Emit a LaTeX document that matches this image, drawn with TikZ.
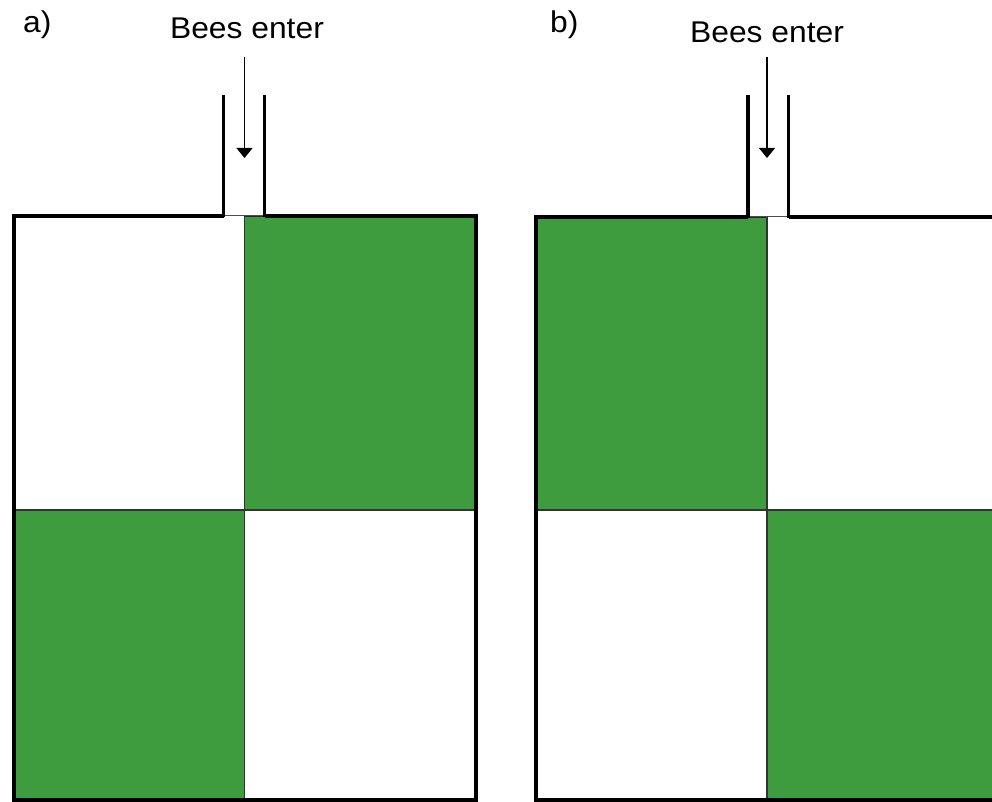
\documentclass[tikz,border=0pt]{standalone}
\usepackage{fontspec}
\setmainfont{Liberation Sans}[FakeStretch=1.06]
\usetikzlibrary{arrows.meta}
\definecolor{cellgreen}{RGB}{62,156,62}
\begin{document}
\begin{tikzpicture}[x=1pt,y=-1pt]
\tikzstyle{every node}=[font=\fontsize{30}{36}\selectfont, inner sep=0pt]
\tikzset{
  green cell/.style={fill=cellgreen, draw=black!85, line width=1.2pt},
  divider/.style={draw=black!80, line width=1.4pt},
  outline/.style={line width=4pt, line join=miter},
  tube/.style={line width=3.3pt},
  flow/.style={-{Triangle[length=10pt,width=16pt]}, line width=1.1pt}
}

\useasboundingbox (0,0) rectangle (992,802);
\clip (0,0) rectangle (992,802);

% panel a) : green top right and bottom left
\filldraw[green cell] (244.5,216) rectangle (475.5,510);
\filldraw[green cell] (14,510) rectangle (244.5,800);
\draw[divider] (244.5,216) -- (244.5,800);
\draw[divider] (14,510) -- (475.5,510);
\draw[line width=1pt, black!70] (223.5,216) -- (264.5,216);
\draw[outline] (223.5,216) -- (14,216) -- (14,800) -- (475.5,800) -- (475.5,216) -- (264.5,216);
\draw[tube] (223.5,95) -- (223.5,217.5);
\draw[tube] (264.5,95) -- (264.5,217.5);

% panel b) : green top left and bottom right
\filldraw[green cell] (535.5,217) rectangle (767,510);
\filldraw[green cell] (767,510) rectangle (1000,800);
\draw[divider] (767,217) -- (767,800);
\draw[divider] (535.5,510) -- (1000,510);
\draw[line width=1pt, black!70] (748,217) -- (788.5,217);
\draw[outline] (748,217) -- (535.5,217) -- (535.5,800) -- (1000,800);
\draw[outline] (788.5,217) -- (1000,217);
\draw[tube] (748,95) -- (748,218.5);
\draw[tube] (788.5,95) -- (788.5,218.5);

% labels
\node[anchor=base west] (labA) at (23,33) {a)};
\node[anchor=base west] (labB) at (550,33) {b)};
\node[anchor=base] (enterA) at (247,39) {Bees enter};
\node[anchor=base] (enterB) at (767,43) {Bees enter};

% arrows into the tubes
\coordinate (inA) at (244.5,57);
\coordinate (tipA) at (244.5,158);
\coordinate (inB) at (767,57);
\coordinate (tipB) at (767,158);
\draw[flow] (inA) -- (tipA);
\draw[flow] (inB) -- (tipB);

\end{tikzpicture}
\end{document}
